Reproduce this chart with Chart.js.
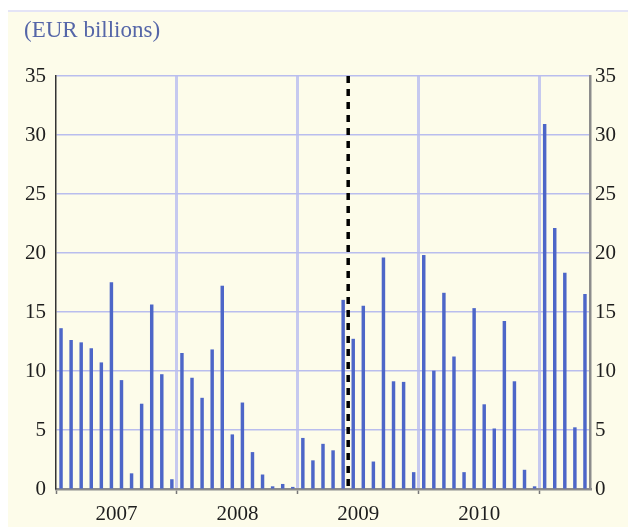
<!DOCTYPE html>
<html>
<head>
<meta charset="utf-8">
<script src="https://cdn.jsdelivr.net/npm/chart.js@4"></script>
<style>
  html, body { margin: 0; padding: 0; background: #ffffff; }
  #panel {
    position: absolute; left: 8px; top: 10px; width: 620px; height: 517px;
    background: #fdfcea; border-top: 2px solid #e4e4f6;
  }
  #myChart { position: absolute; left: 0; top: 0; }
</style>
</head>
<body>
<div id="panel"></div>
<canvas id="myChart" width="628" height="527"></canvas>
<script>
const years = ["2007", "2008", "2009", "2010", "2011"];
const monthNames = ["Jan", "Feb", "Mar", "Apr", "May", "Jun", "Jul", "Aug", "Sep", "Oct", "Nov", "Dec"];

const values2007 = [13.6, 12.6, 12.4, 11.9, 10.7, 17.5, 9.2, 1.3, 7.2, 15.6, 9.7, 0.8];
const values2008 = [11.5, 9.4, 7.7, 11.8, 17.2, 4.6, 7.3, 3.1, 1.2, 0.2, 0.4, 0.15];
const values2009 = [4.3, 2.4, 3.8, 3.25, 16.0, 12.7, 15.5, 2.3, 19.6, 9.1, 9.05, 1.4];
const values2010 = [19.8, 10.0, 16.6, 11.2, 1.4, 15.3, 7.15, 5.1, 14.2, 9.1, 1.6, 0.2];
const values2011 = [30.9, 22.1, 18.3, 5.2, 16.5];

const yTicks = [0, 5, 10, 15, 20, 25, 30, 35];
const markerAfter = "May 2009";

const yearValues = [values2007, values2008, values2009, values2010, values2011];

const labels = [];
const values = [];
yearValues.forEach((arr, yi) => {
  arr.forEach((v, mi) => {
    labels.push(monthNames[mi] + " " + years[yi]);
    values.push(v);
  });
});

const serif = "'Liberation Serif', 'DejaVu Serif', serif";

const extras = {
  id: "extras",
  afterDatasetsDraw(chart) {
    const { ctx, chartArea, scales } = chart;
    const i = labels.indexOf(markerAfter);
    const x = (scales.x.getPixelForValue(i) + scales.x.getPixelForValue(i + 1)) / 2;
    ctx.save();
    ctx.strokeStyle = "#000000";
    ctx.lineWidth = 3.5;
    ctx.setLineDash([7, 6]);
    ctx.beginPath();
    ctx.moveTo(x, chartArea.top);
    ctx.lineTo(x, chartArea.bottom);
    ctx.stroke();
    ctx.restore();
  },
  afterDraw(chart) {
    const ctx = chart.ctx;
    ctx.save();
    ctx.fillStyle = "#5566a8";
    ctx.font = "23px " + serif;
    ctx.textBaseline = "middle";
    ctx.fillText("(EUR billions)", 24, 31);
    ctx.restore();
  }
};

const yAxis = (position) => ({
  type: "linear",
  position,
  min: 0,
  max: 35,
  afterBuildTicks: (scale) => { scale.ticks = yTicks.map(v => ({ value: v })); },
  afterFit: (scale) => { scale.width = position === "left" ? 56 : 38; },
  grid: {
    display: position === "left",
    color: "#b9bdee",
    lineWidth: 1.5,
    drawTicks: false
  },
  border: {
    display: true,
    color: position === "left" ? "#333333" : "#8c8c8c",
    width: position === "left" ? 1.5 : 2.5
  },
  ticks: {
    padding: position === "left" ? 10 : 5,
    color: "#1e1e1e",
    font: { family: serif, size: 21 }
  }
});

new Chart(document.getElementById("myChart"), {
  type: "bar",
  data: {
    labels,
    datasets: [{
      data: values,
      backgroundColor: "#4d66c8",
      barThickness: 2.8,
      yAxisID: "y"
    }]
  },
  options: {
    responsive: false,
    animation: false,
    devicePixelRatio: 1,
    layout: { padding: { top: 76, left: 0, right: 0, bottom: 0 } },
    plugins: { legend: { display: false }, tooltip: { enabled: false } },
    scales: {
      x: {
        type: "category",
        afterFit: (scale) => { scale.height = 38; },
        grid: {
          offset: true,
          color: (c) => (c.index % 12 === 0 && c.index > 0 ? "#c6c9ef" : "transparent"),
          lineWidth: 3,
          drawTicks: true,
          tickLength: 5,
          tickColor: (c) => (c.index % 12 === 0 ? "#777777" : "transparent"),
          tickWidth: 1.5
        },
        border: { display: true, color: "#8c8c8c", width: 2.5 },
        ticks: {
          autoSkip: false,
          maxRotation: 0,
          minRotation: 0,
          labelOffset: -5,
          padding: 8,
          color: "#1e1e1e",
          font: { family: serif, size: 21 },
          callback: (v, i) => (i % 12 === 6 && i < 48 ? labels[i].slice(4) : "")
        }
      },
      y: yAxis("left"),
      y2: yAxis("right")
    }
  },
  plugins: [extras]
});
</script>
</body>
</html>
